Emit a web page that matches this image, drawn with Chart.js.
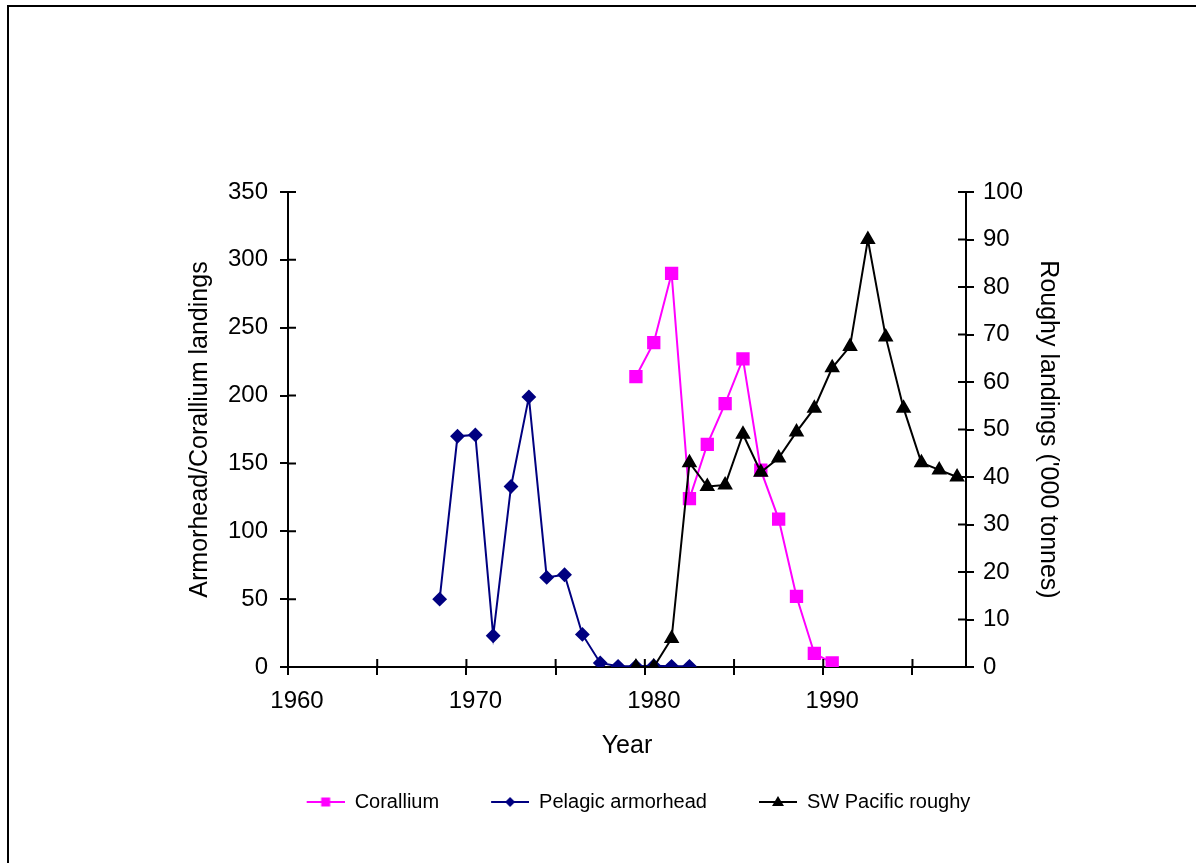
<!DOCTYPE html>
<html>
<head>
<meta charset="utf-8">
<script src="https://cdn.jsdelivr.net/npm/chart.js@4/dist/chart.umd.min.js"></script>
<style>
  html, body { margin: 0; padding: 0; background: #fff; overflow: hidden; }
  #frame { position: absolute; left: 7px; top: 5px; width: 1300px; height: 1000px; border: 2px solid #000; }
  #chart { position: absolute; left: 0; top: 0; }
</style>
</head>
<body>
<div id="frame"></div>
<canvas id="chart" width="1196" height="863"></canvas>
<script>
// data
const coralliumYears = [1979, 1980, 1981, 1982, 1983, 1984, 1985, 1986, 1987, 1988, 1989, 1990];
const corallium = [214, 239, 290, 124, 164, 194, 227, 145, 109, 52, 10, 3];

const armorheadYears = [1968, 1969, 1970, 1971, 1972, 1973, 1974, 1975, 1976, 1977, 1978, 1979, 1980, 1981, 1982];
const armorhead = [50, 170, 171, 23, 133, 199, 66, 68, 24, 3, 0.5, 0.5, 1, 0.5, 0.5];

const roughyYears = [1979, 1980, 1981, 1982, 1983, 1984, 1985, 1986, 1987, 1988, 1989, 1990, 1991, 1992, 1993, 1994, 1995, 1996, 1997];
const roughy = [0, 0, 6, 43, 38, 38.3, 49, 41, 44, 49.5, 54.5, 63, 67.5, 90, 69.5, 54.5, 43, 41.5, 40];

const xTickYears = [1960, 1965, 1970, 1975, 1980, 1985, 1990, 1995];
const xTickLabels = ["1960", "", "1970", "", "1980", "", "1990", ""];

const FONT = '"Liberation Sans", Arial, sans-serif';

function points(xs, ys) {
  return xs.map((x, i) => ({ x: x, y: ys[i] }));
}

// legend sample: short line with the marker in the middle
function makeIcon(color, shape) {
  const c = document.createElement("canvas");
  c.width = 59; c.height = 16;
  const g = c.getContext("2d");
  g.strokeStyle = color; g.fillStyle = color; g.lineWidth = 2;
  g.beginPath(); g.moveTo(21, 8); g.lineTo(59, 8); g.stroke();
  const cx = 40, cy = 8;
  g.beginPath();
  if (shape === "rect") {
    g.rect(cx - 4.5, cy - 4.5, 9, 9);
  } else if (shape === "rectRot") {
    g.moveTo(cx, cy - 5); g.lineTo(cx + 5, cy); g.lineTo(cx, cy + 5); g.lineTo(cx - 5, cy);
  } else {
    g.moveTo(cx, cy - 6); g.lineTo(cx + 6, cy + 4); g.lineTo(cx - 6, cy + 4);
  }
  g.closePath(); g.fill();
  return c;
}

// Excel style ticks that cross the axis line
const crossTicks = {
  id: "crossTicks",
  afterDraw(chart) {
    const ctx = chart.ctx;
    const area = chart.chartArea;
    ctx.save();
    ctx.strokeStyle = "#000";
    ctx.lineWidth = 2;
    ctx.beginPath();
    chart.scales.x.ticks.forEach(t => {
      const px = chart.scales.x.getPixelForValue(t.value);
      ctx.moveTo(px, area.bottom); ctx.lineTo(px, area.bottom - 8);
    });
    chart.scales.y.ticks.forEach(t => {
      const py = chart.scales.y.getPixelForValue(t.value);
      ctx.moveTo(area.left, py); ctx.lineTo(area.left + 8, py);
    });
    chart.scales.y1.ticks.forEach(t => {
      const py = chart.scales.y1.getPixelForValue(t.value);
      ctx.moveTo(area.right, py); ctx.lineTo(area.right - 8, py);
    });
    ctx.stroke();
    ctx.restore();
  }
};

const axisGrid = { drawOnChartArea: false, color: "#000", tickColor: "#000", tickLength: 8, tickWidth: 2, lineWidth: 2 };
const axisBorder = { color: "#000", width: 2 };

const chart = new Chart(document.getElementById("chart"), {
  type: "line",
  data: {
    datasets: [
      {
        label: "Corallium",
        data: points(coralliumYears, corallium),
        borderColor: "#FF00FF", backgroundColor: "#FF00FF",
        borderWidth: 2, pointStyle: "rect", pointRadius: 8,
        yAxisID: "y", order: 2
      },
      {
        label: "Pelagic armorhead",
        data: points(armorheadYears, armorhead),
        borderColor: "#000080", backgroundColor: "#000080",
        borderWidth: 2, pointStyle: "rectRot", pointRadius: 6,
        yAxisID: "y", order: 1
      },
      {
        label: "SW Pacific roughy",
        data: points(roughyYears, roughy),
        borderColor: "#000", backgroundColor: "#000",
        borderWidth: 2, pointStyle: "triangle", pointRadius: 7,
        yAxisID: "y1", order: 0
      }
    ]
  },
  options: {
    responsive: false,
    animation: false,
    layout: { padding: { left: 180, right: 120, top: 192, bottom: 41 } },
    elements: { line: { tension: 0 }, point: { borderWidth: 0, hoverRadius: 8 } },
    scales: {
      x: {
        type: "linear",
        min: 1959.5, max: 1997.5,
        afterBuildTicks: s => { s.ticks = xTickYears.map(v => ({ value: v - 0.5 })); },
        afterFit: s => { s.height = 94; },
        ticks: {
          autoSkip: false, maxRotation: 0, padding: 12, labelOffset: 9,
          color: "#000", font: { family: FONT, size: 24 },
          callback: (v, i) => xTickLabels[i]
        },
        grid: axisGrid, border: axisBorder,
        title: { display: true, text: "Year", color: "#000", font: { family: FONT, size: 25 }, padding: 0 }
      },
      y: {
        position: "left",
        min: 0, max: 350,
        afterFit: s => { s.width = 108; },
        ticks: { stepSize: 50, padding: 12, color: "#000", font: { family: FONT, size: 24 } },
        grid: axisGrid, border: axisBorder,
        title: { display: true, text: "Armorhead/Corallium landings", color: "#000", font: { family: FONT, size: 25 }, padding: { top: 5, bottom: 0 } }
      },
      y1: {
        position: "right",
        min: 0, max: 100,
        afterFit: s => { s.width = 110; },
        ticks: { stepSize: 10, padding: 9, color: "#000", font: { family: FONT, size: 24 } },
        grid: axisGrid, border: axisBorder,
        title: { display: true, text: "Roughy landings ('000 tonnes)", color: "#000", font: { family: FONT, size: 25 }, padding: { top: 13, bottom: 0 } }
      }
    },
    plugins: {
      tooltip: { enabled: false },
      legend: {
        position: "bottom",
        labels: {
          usePointStyle: true,
          pointStyleWidth: 59,
          padding: 31,
          color: "#000",
          font: { family: FONT, size: 20 },
          sort: (a, b) => a.datasetIndex - b.datasetIndex,
          generateLabels: ch => ch.data.datasets.map((ds, i) => ({
            text: ds.label,
            pointStyle: makeIcon(ds.borderColor, ds.pointStyle),
            fillStyle: ds.borderColor,
            strokeStyle: ds.borderColor,
            lineWidth: 0,
            fontColor: "#000",
            datasetIndex: i,
            hidden: false
          }))
        }
      }
    }
  },
  plugins: [crossTicks]
});
</script>
</body>
</html>
